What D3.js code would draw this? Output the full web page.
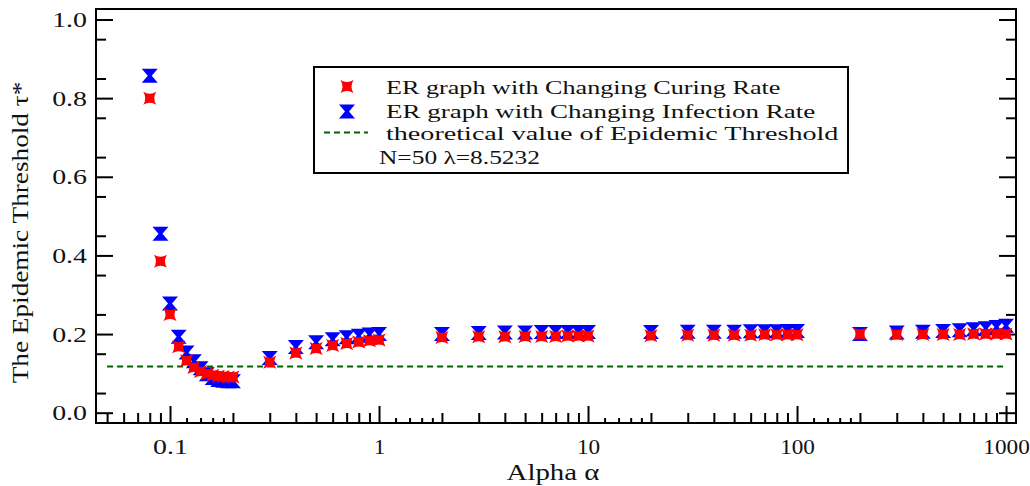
<!DOCTYPE html>
<html>
<head>
<meta charset="utf-8">
<script src="https://cdn.jsdelivr.net/npm/d3@7"></script>
<style>
  body { margin: 0; background: #fff; }
  text { font-family: "Liberation Serif", "DejaVu Serif", serif; fill: #111; }
</style>
</head>
<body>
<script>
// alpha values on the x axis
const alpha = [0.08, 0.09, 0.1, 0.11, 0.12, 0.13, 0.14, 0.15, 0.16, 0.17, 0.18, 0.19, 0.2,
               0.3, 0.4, 0.5, 0.6, 0.7, 0.8, 0.9, 1,
               2, 3, 4, 5, 6, 7, 8, 9, 10,
               20, 30, 40, 50, 60, 70, 80, 90, 100,
               200, 300, 400, 500, 600, 700, 800, 900, 1000];
// changing curing rate (red)
const curing = [0.800, 0.385, 0.250, 0.168, 0.132, 0.115, 0.105, 0.099, 0.095, 0.093, 0.092, 0.091, 0.091,
                0.128, 0.152, 0.163, 0.171, 0.176, 0.180, 0.183, 0.185,
                0.191, 0.193, 0.193, 0.194, 0.194, 0.194, 0.195, 0.195, 0.195,
                0.196, 0.197, 0.197, 0.197, 0.197, 0.198, 0.198, 0.198, 0.198,
                0.200, 0.199, 0.199, 0.199, 0.199, 0.200, 0.200, 0.200, 0.200];
// changing infection rate (blue)
const infection = [0.857, 0.455, 0.278, 0.193, 0.153, 0.131, 0.113, 0.098, 0.088, 0.083, 0.081, 0.080, 0.080,
                   0.139, 0.167, 0.179, 0.187, 0.192, 0.196, 0.199, 0.200,
                   0.200, 0.203, 0.204, 0.204, 0.205, 0.205, 0.205, 0.205, 0.205,
                   0.205, 0.206, 0.206, 0.206, 0.207, 0.207, 0.207, 0.208, 0.208,
                   0.200, 0.204, 0.206, 0.208, 0.210, 0.212, 0.215, 0.218, 0.221];
const threshold = 1 / 8.5232;
const thresholdRange = [0.05, 1000];

const xMajor = [0.1, 1, 10, 100, 1000];
const xMajorLabels = ['0.1', '1', '10', '100', '1000'];
const yMajor = [0, 0.2, 0.4, 0.6, 0.8, 1.0];
const yMajorLabels = ['0.0', '0.2', '0.4', '0.6', '0.8', '1.0'];

const legendLabels = ['ER graph with Changing Curing Rate',
                      'ER graph with Changing Infection Rate',
                      'theoretical value of Epidemic Threshold'];
const legendNote = 'N=50 λ=8.5232';

const width = 1030, height = 486;
const pLeft = 96, pRight = 1016, pTop = 9, pBottom = 423;
const cw = 11.6; // width of one half-width character

const svg = d3.select('body').append('svg')
    .attr('width', width).attr('height', height);

const x = d3.scaleLog().domain([0.04425, 1116]).range([pLeft, pRight]);
const y = d3.scaleLinear().domain([-0.0262, 1.0267]).range([pBottom, pTop]);

// count half-width units (wide glyphs count as two)
function units(s) {
    let n = 0;
    for (const c of s) n += /[\u0370-\u03ff]/.test(c) ? 2 : 1;
    return n;
}
function fit(sel, s) {
    sel.text(s).attr('textLength', units(s) * cw).attr('lengthAdjust', 'spacingAndGlyphs');
}

// minor ticks
const xMinor = [], xTiny = [];
[0.01, 0.1, 1, 10, 100].forEach(d => {
    for (let k = 2; k <= 9; k++) xMinor.push(k * d);
    [1.2, 1.4, 1.6, 1.8].forEach(k => xTiny.push(k * d * 10));
});
const xMinorIn = xMinor.filter(v => v > x.domain()[0] && v < x.domain()[1]);
const xTinyIn = xTiny.filter(v => v < x.domain()[1]);
const yMinor = d3.range(0.05, 1.0, 0.1);

function drawAxis(g) {
    g.select('.domain').remove();
    g.selectAll('line').attr('stroke', '#000').attr('stroke-width', 2);
}

// bottom axis
svg.append('g').attr('transform', `translate(0,${pBottom})`)
   .call(d3.axisBottom(x).tickValues(xTinyIn).tickSize(-5).tickFormat(''))
   .call(drawAxis);
svg.append('g').attr('transform', `translate(0,${pBottom})`)
   .call(d3.axisBottom(x).tickValues(xMinorIn).tickSize(-10).tickFormat(''))
   .call(drawAxis);
const xAx = svg.append('g').attr('transform', `translate(0,${pBottom})`)
   .call(d3.axisBottom(x).tickValues(xMajor).tickSize(-17).tickFormat(''))
   .call(drawAxis);
xAx.selectAll('.tick').append('text')
   .attr('y', 24).attr('text-anchor', 'middle').attr('dominant-baseline', 'central')
   .attr('font-size', 21).attr('fill', '#111')
   .each(function(d, i) { fit(d3.select(this), xMajorLabels[i]); });

// left and right axes
[[pLeft, d3.axisLeft, 'yleft'], [pRight, d3.axisRight, 'yright']].forEach(([px, ax, cls]) => {
    svg.append('g').attr('transform', `translate(${px},0)`)
       .call(ax(y).tickValues(yMinor).tickSize(-10).tickFormat(''))
       .call(drawAxis);
    svg.append('g').attr('transform', `translate(${px},0)`)
       .call(ax(y).tickValues(yMajor).tickSize(-17).tickFormat(''))
       .call(drawAxis)
       .attr('class', cls);
});
svg.select('.yleft').selectAll('.tick').append('text')
   .attr('x', -9).attr('text-anchor', 'end').attr('dominant-baseline', 'central')
   .attr('font-size', 21).attr('fill', '#111')
   .each(function(d, i) { fit(d3.select(this), yMajorLabels[i]); });

// frame
svg.append('rect')
   .attr('x', pLeft).attr('y', pTop)
   .attr('width', pRight - pLeft).attr('height', pBottom - pTop)
   .attr('fill', 'none').attr('stroke', '#000').attr('stroke-width', 2);

// axis titles
fit(svg.append('text')
   .attr('transform', `translate(28,${(83 + 382) / 2}) rotate(-90)`)
   .attr('text-anchor', 'middle').attr('font-size', 23), 'The Epidemic Threshold τ*');
fit(svg.append('text')
   .attr('x', 553).attr('y', 480)
   .attr('text-anchor', 'middle').attr('font-size', 23), 'Alpha α');

// threshold line
svg.append('line')
   .attr('x1', x(thresholdRange[0])).attr('x2', x(thresholdRange[1]))
   .attr('y1', y(threshold)).attr('y2', y(threshold))
   .attr('stroke', '#006400').attr('stroke-width', 2).attr('stroke-dasharray', '6,4');

// markers
const starPath = 'M-6.5,-6.5 Q0,-2.5 6.5,-6.5 Q2.5,0 6.5,6.5 Q0,2.5 -6.5,6.5 Q-2.5,0 -6.5,-6.5 Z';
const hourPath = 'M-8,-7 L8,-7 L2,0 L8,7 L-8,7 L-2,0 Z';

svg.append('g').selectAll('path')
   .data(alpha.map((a, i) => [a, infection[i]]))
   .enter().append('path')
   .attr('d', hourPath)
   .attr('transform', d => `translate(${x(d[0])},${y(d[1])})`)
   .attr('fill', '#0000ff');

svg.append('g').selectAll('path')
   .data(alpha.map((a, i) => [a, curing[i]]))
   .enter().append('path')
   .attr('d', starPath)
   .attr('transform', d => `translate(${x(d[0])},${y(d[1])})`)
   .attr('fill', '#ff0000');

// legend
const lg = svg.append('g');
lg.append('rect').attr('x', 314).attr('y', 67).attr('width', 534).attr('height', 106)
  .attr('fill', '#fff').attr('stroke', '#000').attr('stroke-width', 2);
lg.append('path').attr('d', starPath).attr('transform', 'translate(347,86.5)').attr('fill', '#ff0000');
lg.append('path').attr('d', hourPath).attr('transform', 'translate(347,111.5)').attr('fill', '#0000ff');
lg.append('line').attr('x1', 324).attr('x2', 368).attr('y1', 132.5).attr('y2', 132.5)
  .attr('stroke', '#006400').attr('stroke-width', 2).attr('stroke-dasharray', '6,4');
const rows = [93.5, 117.5, 140];
legendLabels.forEach((s, i) => {
    fit(lg.append('text').attr('x', 386).attr('y', rows[i]).attr('font-size', 19.5), s);
});
lg.append('text').attr('x', 379).attr('y', 163.5).attr('font-size', 19.5)
  .text(legendNote).attr('textLength', 161).attr('lengthAdjust', 'spacingAndGlyphs');
</script>
</body>
</html>
